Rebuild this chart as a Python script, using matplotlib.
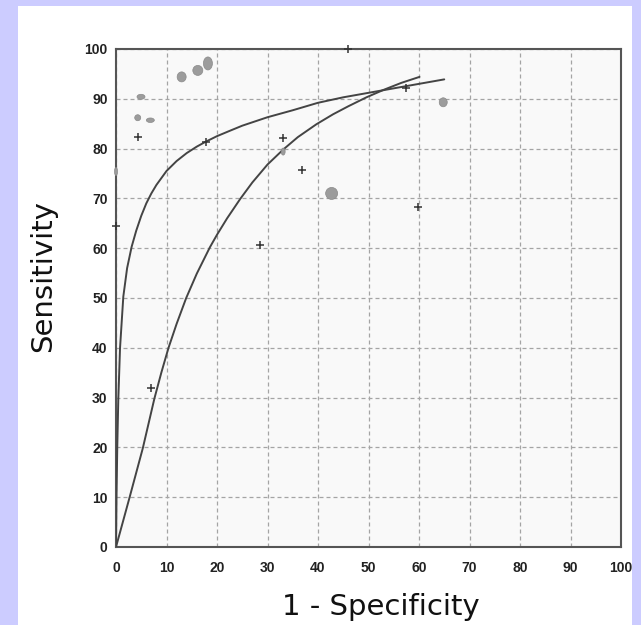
import matplotlib
matplotlib.use("Agg")
import matplotlib.pyplot as plt
from matplotlib.patches import Rectangle, Ellipse
from matplotlib import font_manager

# ---- data ----
ticks = [0, 10, 20, 30, 40, 50, 60, 70, 80, 90, 100]

# upper summary ROC curve (1-specificity, sensitivity)
upper_x = [0, 0.1, 0.25, 0.45, 0.8, 1.45, 2.2, 3.1, 4.0, 5.0, 6.0, 7.0, 8.0, 10.0, 12.0, 14.0,
           16.0, 17.8, 20.0, 22.6, 25.0, 30.0, 35.0, 40.0, 45.0, 50.0, 55.0, 60.0, 65.0]
upper_y = [0, 10.0, 20.0, 29.5, 40.0, 50.3, 56.0, 60.3, 63.5, 66.5, 69.0, 71.0, 72.7, 75.5, 77.5, 79.1,
           80.4, 81.4, 82.5, 83.6, 84.6, 86.3, 87.7, 89.2, 90.3, 91.2, 92.1, 93.0, 93.9]

# lower summary ROC curve
lower_x = [0, 2.7, 5.3, 7.6, 9.0, 10.4, 12.0, 13.9, 16.0, 18.6, 20.0, 22.0, 24.6, 27.0, 30.0,
           33.1, 36.0, 39.7, 43.0, 46.0, 49.6, 53.0, 56.5, 60.1]
lower_y = [0, 10.0, 19.8, 29.8, 35.1, 40.0, 44.8, 50.0, 54.9, 60.2, 62.7, 66.0, 69.9, 73.2, 76.8,
           79.8, 82.3, 84.9, 86.9, 88.5, 90.3, 91.8, 93.2, 94.4]

# study points drawn as grey ellipses
dot_x = [4.95, 4.3, 6.8, 13.0, 16.2, 18.2, 33.1, 42.7, 64.8, 0.0]
dot_y = [90.4, 86.2, 85.7, 94.4, 95.7, 97.1, 79.4, 71.0, 89.3, 75.4]
# ellipse sizes in pixels (width, height)
dot_w = [8, 6, 8, 9, 10, 9, 4, 12, 8, 3]
dot_h = [5, 6, 4.5, 10, 10, 13, 7, 12, 9, 8]

# study points drawn as '+'
plus_x = [4.3, 17.8, 33.1, 36.9, 46.0, 57.4, 59.9, 28.5, 6.9, 0.0]
plus_y = [82.4, 81.4, 82.1, 75.7, 100.0, 92.1, 68.3, 60.6, 32.0, 64.5]

# ---- layout ----
W, H = 641, 625
fig = plt.figure(figsize=(W / 100, H / 100), dpi=100)
fig.patch.set_facecolor("#ccccff")
fig.add_artist(Rectangle((18 / W, 0), (632 - 18) / W, (H - 6) / H,
                         transform=fig.transFigure, facecolor="white",
                         edgecolor="none", zorder=-10))

L, R, T, B = 116, 621, 49, 547
ax = fig.add_axes([L / W, 1 - B / H, (R - L) / W, (B - T) / H])
ax.set_facecolor("#f9f9f9")
ax.set_xlim(0, 100)
ax.set_ylim(0, 100)

names = {f.name for f in font_manager.fontManager.ttflist}
tickfam = "Liberation Sans Narrow" if "Liberation Sans Narrow" in names else "Liberation Sans"

ax.set_xticks(ticks)
ax.set_yticks(ticks)
ax.set_xticklabels([str(t) for t in ticks], family=tickfam, fontsize=10, fontweight="bold", color="#222222")
ax.set_yticklabels([str(t) for t in ticks], family=tickfam, fontsize=10, fontweight="bold", color="#222222")
ax.tick_params(axis="x", length=0, pad=10)
ax.tick_params(axis="y", length=0, pad=6)

ax.grid(True, color="#a4a4a4", linewidth=0.9, linestyle=(0, (3.2, 2.4)))
ax.set_axisbelow(True)
for s in ax.spines.values():
    s.set_color("#555555")
    s.set_linewidth(1.5)

ax.plot(upper_x, upper_y, color="#444444", lw=1.4, zorder=3, solid_capstyle="round",
        solid_joinstyle="round")
ax.plot(lower_x, lower_y, color="#444444", lw=1.4, zorder=3, solid_capstyle="round",
        solid_joinstyle="round")

pxx = (R - L) / 100.0
pxy = (B - T) / 100.0
for x, y, w, h in zip(dot_x, dot_y, dot_w, dot_h):
    ax.add_patch(Ellipse((x, y), w / pxx, h / pxy, facecolor="#9c9c9c",
                         edgecolor="#8a8a8a", lw=0.5, zorder=4, clip_on=False))

ax.plot(plus_x, plus_y, linestyle="none", marker="+", markersize=6,
        markeredgewidth=1.1, color="#333333", zorder=5, clip_on=False)

fig.text(43 / W, 1 - 276 / H, "Sensitivity", rotation=90, ha="center", va="center",
         family="DejaVu Sans", fontsize=21, color="#111111")
fig.text(381 / W, 1 - 615 / H, "1 - Specificity", ha="center", va="baseline",
         family="DejaVu Sans", fontsize=21, color="#111111")

fig.savefig("out.png", dpi=100, facecolor=fig.get_facecolor())
